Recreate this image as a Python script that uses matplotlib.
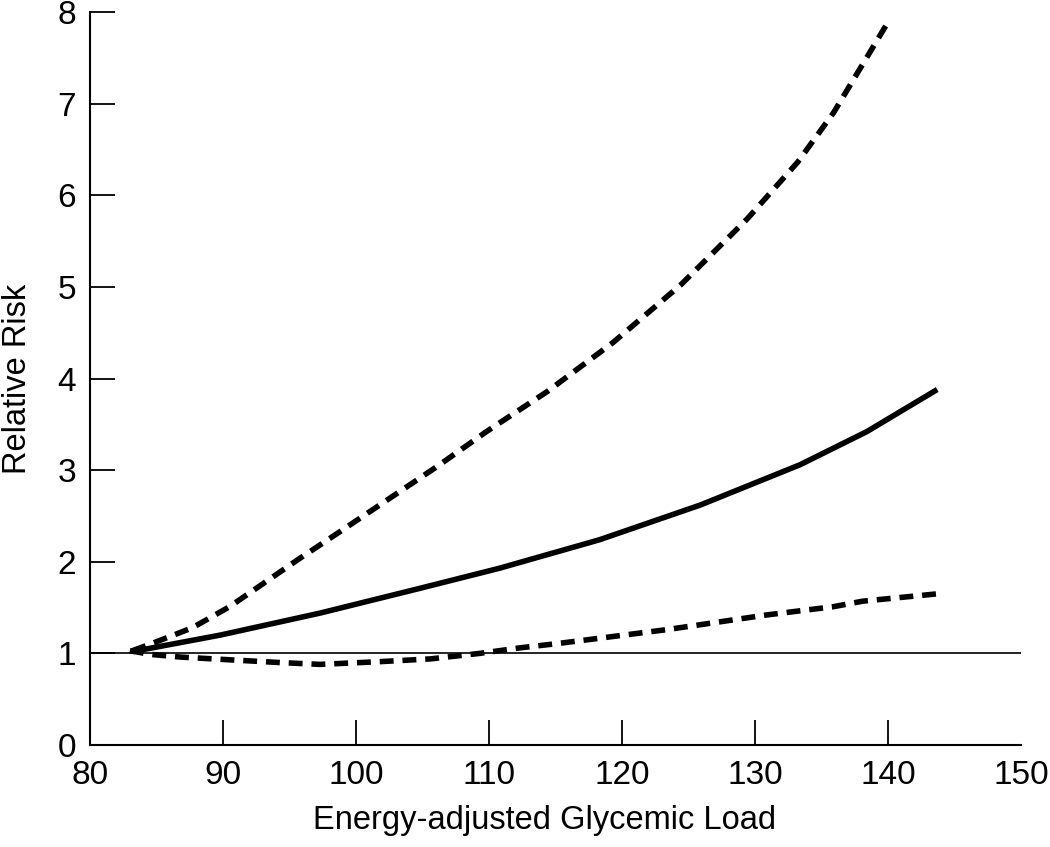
import matplotlib
matplotlib.use("Agg")
import matplotlib.pyplot as plt

# values
upper_x = [83.2, 84.7, 87.7, 90.5, 93.0, 95.6, 98.6, 102.3, 106.1, 109.8, 114.4,
           119.3, 124.4, 129.4, 133.2, 135.9, 140.0]
upper_y = [1.03, 1.11, 1.28, 1.51, 1.76, 2.02, 2.31, 2.67, 3.04, 3.42, 3.86,
           4.39, 5.02, 5.74, 6.36, 6.90, 7.89]

solid_x = [83.2, 89.8, 97.3, 104.8, 110.8, 118.3, 125.9, 133.4, 138.4, 143.7]
solid_y = [1.02, 1.20, 1.44, 1.71, 1.93, 2.24, 2.62, 3.06, 3.42, 3.88]

lower_x = [83.0, 84.5, 86.8, 90.5, 94.3, 97.3, 101.8, 105.6, 109.3, 112.3, 115.3,
           123.4, 130.9, 135.9, 138.1, 143.7]
lower_y = [1.03, 0.99, 0.96, 0.93, 0.90, 0.88, 0.91, 0.94, 1.00, 1.06, 1.11,
           1.26, 1.42, 1.51, 1.57, 1.65]

x_ticks = [80, 90, 100, 110, 120, 130, 140, 150]
y_ticks = [0, 1, 2, 3, 4, 5, 6, 7, 8]

plt.rcParams['font.family'] = ['Liberation Sans', 'DejaVu Sans']

fig = plt.figure(figsize=(10.5, 8.47), dpi=100)
ax = fig.add_axes([0.0857, 0.1204, 0.8867, 0.8654])

ax.axhline(1, color="black", lw=1.2)
ax.plot(solid_x, solid_y, color="black", lw=4, solid_capstyle="butt")
ax.plot(upper_x, upper_y, color="black", lw=4, dashes=(2.5, 1.6), dash_capstyle="butt")
ax.plot(lower_x, lower_y, color="black", lw=4, dashes=(2.5, 1.6), dash_capstyle="butt")

ax.set_xlim(80, 150)
ax.set_ylim(0, 8)
ax.set_xticks(x_ticks)
ax.set_yticks(y_ticks)
ax.tick_params(direction="in", length=18, width=1.3, labelsize=24, colors="black")
ax.tick_params(axis="x", pad=11)
ax.tick_params(axis="y", pad=10)
# no tick mark drawn at the right end of the x axis
ax.xaxis.get_major_ticks()[-1].tick1line.set_visible(False)

for s in ["top", "right"]:
    ax.spines[s].set_visible(False)
for s in ["left", "bottom"]:
    ax.spines[s].set_linewidth(1.5)

ax.set_xlabel("Energy-adjusted Glycemic Load", fontsize=23.5, labelpad=10)
ax.set_ylabel("Relative Risk", fontsize=23.5)
ax.xaxis.label.set_x(0.488)
ax.yaxis.set_label_coords(-0.0615, 0.5)

fig.savefig("out.png", dpi=100)
